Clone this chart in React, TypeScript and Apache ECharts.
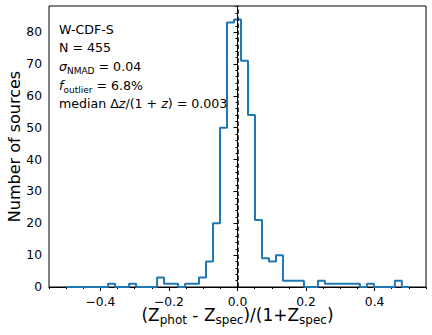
import React, { useEffect, useRef } from 'react';
import * as echarts from 'echarts';

// Histogram binning (range and bin count) and counts per bin
const binStart = -0.5;
const binEnd = 0.5;
const binCount = 49;
const counts = [
  0, 0, 0, 0, 0, 0, 1, 0, 0, 1,
  0, 0, 0, 3, 1, 1, 0, 1, 1, 3,
  8, 20, 50, 83, 84, 71, 54, 21, 9, 8,
  10, 2, 2, 2, 0, 0, 2, 1, 1, 1,
  1, 1, 0, 1, 0, 0, 0, 2, 0,
];

// Axis ticks
const xMajorTicks = [-0.4, -0.2, 0.0, 0.2, 0.4];
const xMinorTicks = [-0.55, -0.5, -0.45, -0.35, -0.3, -0.25, -0.15, -0.1, -0.05, 0.05, 0.1, 0.15, 0.25, 0.3, 0.35, 0.45, 0.5, 0.55];
const yMajorTicks = [0, 10, 20, 30, 40, 50, 60, 70, 80];
const yMinorTicks = [2, 4, 6, 8, 12, 14, 16, 18, 22, 24, 26, 28, 32, 34, 36, 38, 42, 44, 46, 48, 52, 54, 56, 58, 62, 64, 66, 68, 72, 74, 76, 78, 82, 84, 86, 88];

const xMin = -0.55;
const xMax = 0.55;
const yMin = 0;
const yMax = 88.2;
const medianLineX = 0.0;

const FONT = "'DejaVu Sans', sans-serif";

function fmtX(v: number) {
  const s = Math.abs(v).toFixed(1);
  return v < -1e-9 ? '\u2212' + s : s;
}

export default function App() {
  const ref = useRef<HTMLDivElement>(null);
  useEffect(() => {
    if (!ref.current) return;
    const chart = echarts.init(ref.current, undefined, { renderer: 'svg' });
    const width = (binEnd - binStart) / binCount;
    const stepData: number[][] = [[binStart, 0]];
    counts.forEach((c, i) => stepData.push([binStart + i * width, c]));
    stepData.push([binEnd, counts[counts.length - 1]]);
    stepData.push([binEnd, 0]);

    const sub = { fontSize: 9, fontFamily: FONT, verticalAlign: 'bottom', lineHeight: 12, color: '#000' };
    const it = { fontSize: 12.6, fontFamily: FONT, fontStyle: 'italic', color: '#000', lineHeight: 18.6 };

    chart.setOption({
      animation: false,
      backgroundColor: '#fff',
      grid: {
        left: 49, right: 6, top: 6, bottom: 48,
        show: true, borderColor: '#000', borderWidth: 1, backgroundColor: 'transparent',
        containLabel: false, outerBoundsMode: 'none',
      },
      xAxis: [
        {
          type: 'value', min: xMin, max: xMax, position: 'bottom',
          axisLine: { show: true, onZero: false, lineStyle: { color: '#000', width: 1 } },
          axisTick: { show: true, length: 4, customValues: xMajorTicks, lineStyle: { color: '#000' } },
          axisLabel: {
            show: true, customValues: xMajorTicks, formatter: fmtX, margin: 9,
            fontSize: 12.3, fontFamily: FONT, color: '#000',
          },
          splitLine: { show: false },
          name: '(Z{s|phot} - Z{s|spec})/(1+Z{s|spec})',
          nameLocation: 'middle', nameGap: 17, nameMoveOverlap: false,
          nameTextStyle: {
            fontSize: 17, fontFamily: FONT, color: '#000', lineHeight: 22,
            rich: { s: { fontSize: 12, fontFamily: FONT, color: '#000', verticalAlign: 'bottom', lineHeight: 15 } },
          },
        },
        {
          type: 'value', min: xMin, max: xMax, position: 'bottom', offset: 0,
          axisLine: { show: false },
          axisTick: { show: true, length: 2, customValues: xMinorTicks, lineStyle: { color: '#000' } },
          axisLabel: { show: false },
          splitLine: { show: false },
        },
      ],
      yAxis: [
        {
          type: 'value', min: yMin, max: yMax, position: 'left',
          axisLine: { show: true, lineStyle: { color: '#000', width: 1 } },
          axisTick: { show: true, length: 4, customValues: yMajorTicks, lineStyle: { color: '#000' } },
          axisLabel: {
            show: true, customValues: yMajorTicks, margin: 7,
            fontSize: 12.3, fontFamily: FONT, color: '#000',
          },
          splitLine: { show: false },
          name: 'Number of sources', nameLocation: 'middle', nameGap: 27, nameMoveOverlap: false,
          nameTextStyle: { fontSize: 16, fontFamily: FONT, color: '#000' },
        },
        {
          type: 'value', min: yMin, max: yMax, position: 'left', offset: 0,
          axisLine: { show: false },
          axisTick: { show: true, length: 2, customValues: yMinorTicks, lineStyle: { color: '#000' } },
          axisLabel: { show: false },
          splitLine: { show: false },
        },
      ],
      series: [
        {
          type: 'line', step: 'end', data: stepData, symbol: 'none',
          xAxisIndex: 0, yAxisIndex: 0,
          lineStyle: { color: '#1f77b4', width: 2 },
          markLine: {
            silent: true, symbol: ['none', 'none'],
            label: { show: false },
            lineStyle: { color: '#000', type: [4.5, 2.5], width: 1.5 },
            data: [{ xAxis: medianLineX }],
          },
          z: 3,
        },
      ],
      graphic: [
        {
          type: 'text', left: 59, top: 20, z: 10,
          style: {
            text: [
              'W-CDF-S',
              'N = 455',
              '{it|\u03c3}{sub|NMAD} = 0.04',
              '{it|f}{sub|outlier} = 6.8%',
              'median \u0394{it|z}/(1 + {it|z}) = 0.003',
            ].join('\n'),
            fontSize: 12.6, fontFamily: FONT, fill: '#000', lineHeight: 18.6,
            rich: { it, sub },
          },
        },
      ],
    });
    return () => chart.dispose();
  }, []);
  return <div ref={ref} style={{ position: 'fixed', left: 0, top: 0, width: 432, height: 335 }} />;
}
